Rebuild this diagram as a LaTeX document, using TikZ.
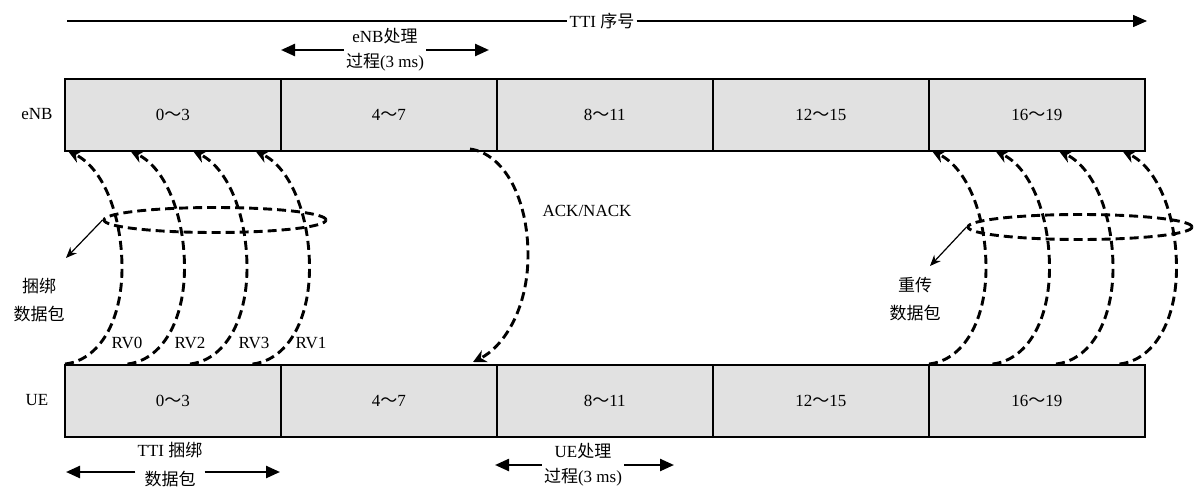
\documentclass[tikz,border=0pt]{standalone}
\usepackage{fontspec}
\setmainfont{Liberation Serif}
\newfontfamily\cjk{Noto Sans CJK SC}
\usetikzlibrary{arrows.meta,shapes.geometric}
\definecolor{cellgray}{HTML}{E1E1E1}
\tikzset{
  cell/.style={draw, line width=1.5pt, fill=cellgray, minimum width=216pt,
    minimum height=72pt, inner sep=0pt, anchor=north west},
  txt/.style={inner sep=2pt, align=center},
  axisline/.style={line width=1.4pt, -{Triangle[length=14pt,width=12pt]}},
  spanarrow/.style={line width=2.4pt, -{Triangle[length=14pt,width=12pt]}},
  dcurve/.style={line width=2.9pt, dash pattern=on 9pt off 5pt,
    -{Stealth[length=13pt,width=13pt]}},
  dring/.style={ellipse, draw, line width=2.9pt, dash pattern=on 9pt off 5pt,
    inner sep=0pt},
  callout/.style={line width=1.2pt, -{Stealth[length=11pt,width=9pt]}}
}
\begin{document}
\begin{tikzpicture}[x=1pt, y=-1pt, font=\fontsize{17}{25}\selectfont]
\useasboundingbox (0,0) rectangle (1194,490);

% TTI axis
\node[txt] (tti) at (602,21) {TTI {\cjk 序号}};
\coordinate (ttiS) at (67,21);
\coordinate (ttiE) at (1147,21);
\draw[line width=1.4pt] (ttiS) -- (tti.west);
\draw[axisline] (tti.east) -- (ttiE);

% eNB processing time
\node[txt] (ep) at (385,50) {eNB{\cjk 处理}\\{\cjk 过程}(3 ms)};
\coordinate (epL) at (281,50);
\coordinate (epR) at (489,50);
\draw[spanarrow] (ep.west) -- (epL);
\draw[spanarrow] (ep.east) -- (epR);

% eNB and UE rows
\node (lenb) at (37,114) {eNB};
\node (lue) at (37,400) {UE};
\foreach \i/\t in {0/0{\cjk ～}3, 1/4{\cjk ～}7, 2/8{\cjk ～}11, 3/12{\cjk ～}15, 4/16{\cjk ～}19} {
  \node[cell] (e\i) at ({64+216*\i},78) {\t};
  \node[cell] (u\i) at ({64+216*\i},364) {\t};
}

% bundled transmissions (UE -> eNB)
\foreach \i in {0,1,2,3} {
  \pgfmathsetmacro{\xa}{65+62.5*\i}
  \coordinate (lb\i) at (\xa,364);
  \coordinate (lp\i) at ({\xa+57},268);
  \coordinate (lt\i) at ({\xa+3},151);
  \draw[dcurve] (lb\i) .. controls +(35,-4) and +(0,52) .. (lp\i)
                       .. controls +(0,-53) and +(35,17) .. (lt\i);
}
% retransmitted bundle
\foreach \i in {0,1,2,3} {
  \pgfmathsetmacro{\xa}{929+63.5*\i}
  \coordinate (rb\i) at (\xa,364);
  \coordinate (rp\i) at ({\xa+57},268);
  \coordinate (rt\i) at ({\xa+3},151);
  \draw[dcurve] (rb\i) .. controls +(35,-4) and +(0,52) .. (rp\i)
                       .. controls +(0,-53) and +(35,17) .. (rt\i);
}

% redundancy versions
\node (rv0) at (127,343) {RV0};
\node (rv2) at (190,343) {RV2};
\node (rv3) at (254,343) {RV3};
\node (rv1) at (311,343) {RV1};

% ACK/NACK feedback (eNB -> UE)
\coordinate (ackS) at (470,149);
\coordinate (ackP) at (528,255);
\coordinate (ackE) at (473,362);
\draw[dcurve] (ackS) .. controls +(35,5) and +(0,-55) .. (ackP)
                     .. controls +(0,55) and +(30,-15) .. (ackE);
\node (ack) at (587,211) {ACK/NACK};

% bundle rings and their labels
\node[dring, minimum width=222pt, minimum height=25pt] (bund) at (215,220) {};
\node[dring, minimum width=224pt, minimum height=25pt] (retx) at (1080,227) {};
\node[txt, font=\fontsize{17}{28}\selectfont] (bl) at (39,300) {{\cjk 捆绑}\\{\cjk 数据包}};
\node[txt, font=\fontsize{17}{28}\selectfont] (rl) at (915,299) {{\cjk 重传}\\{\cjk 数据包}};
\coordinate (blT) at (66,258);
\coordinate (rlT) at (930,266);
\draw[callout] (bund.west) -- (blT);
\draw[callout] (retx.west) -- (rlT);

% TTI bundle length and UE processing time
\node[txt, font=\fontsize{17}{29}\selectfont] (tb) at (170,465) {TTI {\cjk 捆绑}\\{\cjk 数据包}};
\coordinate (tbL) at (66,472);
\coordinate (tbR) at (280,472);
\draw[spanarrow] ([yshift=-7pt]tb.west) -- (tbL);
\draw[spanarrow] ([yshift=-7pt]tb.east) -- (tbR);

\node[txt] (up) at (583,465) {UE{\cjk 处理}\\{\cjk 过程}(3 ms)};
\coordinate (upL) at (495,465);
\coordinate (upR) at (674,465);
\draw[spanarrow] (up.west) -- (upL);
\draw[spanarrow] (up.east) -- (upR);
\end{tikzpicture}
\end{document}
